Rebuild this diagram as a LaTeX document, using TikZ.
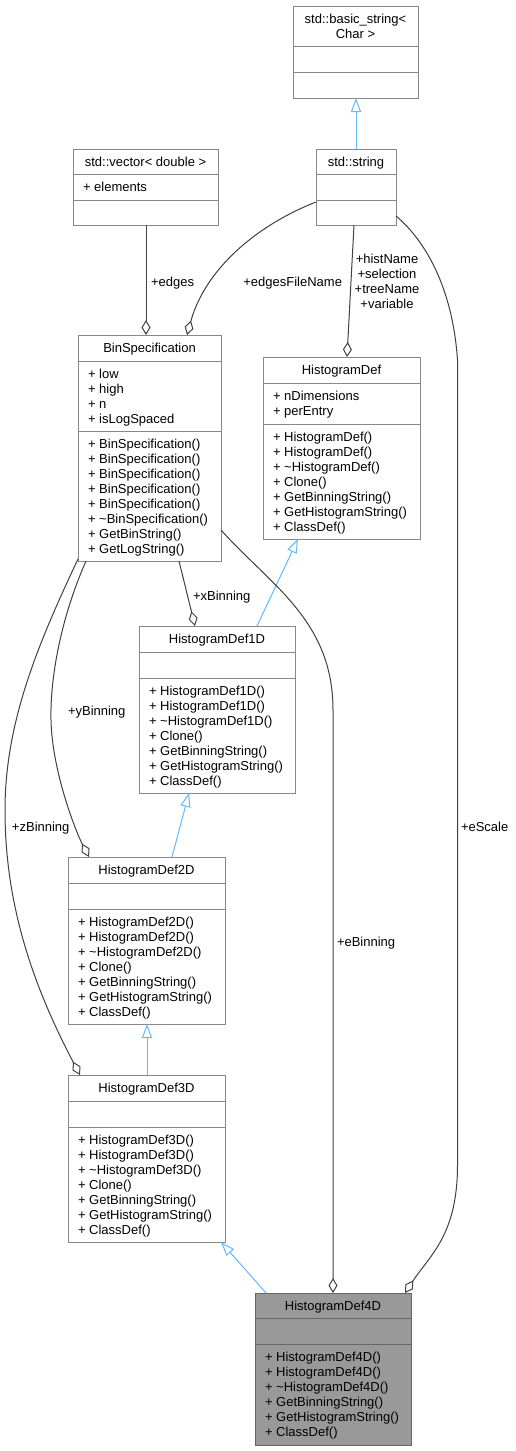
\documentclass[tikz,border=0pt]{standalone}
\usepackage{fontspec}
\setmainfont{Liberation Sans}
\usetikzlibrary{arrows.meta,calc}
\definecolor{boxgray}{HTML}{888888}
\definecolor{edgegray}{HTML}{404040}
\definecolor{inhblue}{HTML}{63B8FF}
\definecolor{fillfour}{HTML}{999999}
\definecolor{borderfour}{HTML}{666666}
\newcommand\fs{\rule{0pt}{11.5pt}}
\tikzset{
  cbox/.style={draw=boxgray, fill=white, line width=1pt, inner sep=0pt, outer sep=0pt},
  focus/.style={draw=borderfour, fill=fillfour},
  sepline/.style={draw=boxgray, line width=1pt},
  sepfour/.style={draw=borderfour, line width=1pt},
  txt/.style={inner sep=0pt, outer sep=0pt, font=\fontsize{13}{15}\selectfont, align=left, anchor=north west},
  ttl/.style={inner sep=0pt, outer sep=0pt, font=\fontsize{13}{15}\selectfont, align=center, anchor=north},
  lbl/.style={inner sep=0pt, outer sep=0pt, font=\fontsize{13}{15}\selectfont},
  inh/.style={draw=inhblue, line width=1pt, -{Triangle[open, length=14pt, width=10pt]}},
  dep/.style={draw=edgegray, line width=1pt, -{Diamond[open, length=15pt, width=9pt]}},
}
% #1 name, #2 left, #3 top, #4 right, #5 bottom, #6 sep1, #7 sep2, #8 extra style, #9 separator style
\newcommand\umlbox[9]{%
  \node[cbox,#8, minimum width={#4-#2}, minimum height={#5-#3}, anchor=north west] (#1) at (#2,#3) {};
  \draw[#9] (#2,#6) -- (#4,#6);
  \draw[#9] (#2,#7) -- (#4,#7);
}
\begin{document}
\begin{tikzpicture}[x=1pt,y=-1pt]
\useasboundingbox (0,0) rectangle (515,1451);

% boxes
\umlbox{bstr}{293}{6}{418}{98}{46}{72}{}{sepline}
\umlbox{vec}{73}{149}{218}{225}{174}{200}{}{sepline}
\umlbox{str}{316}{149}{396}{225}{174}{200}{}{sepline}
\umlbox{bs}{78}{335}{221}{561}{361}{431}{}{sepline}
\umlbox{hd}{263}{357}{420}{539}{383}{424}{}{sepline}
\umlbox{h1}{139}{626}{295}{793}{652}{678}{}{sepline}
\umlbox{h2}{68}{857}{225}{1024}{883}{909}{}{sepline}
\umlbox{h3}{68}{1075}{225}{1242}{1101}{1127}{}{sepline}
\umlbox{h4}{255}{1293}{411}{1445}{1318}{1344}{focus}{sepfour}

% texts
\node[ttl] (bstr-t) at (355.5,12) {\fs std::basic\_string<\\Char >};
\node[ttl] (vec-t) at (145.5,155) {\fs std::vector< double >};
\node[txt] (vec-a) at (83,180) {\fs + elements};
\node[ttl] (str-t) at (356,155) {\fs std::string};

\node[ttl] (bs-t) at (149.5,341) {\fs BinSpecification};
\node[txt] (bs-a) at (88,367) {\fs + low\\+ high\\+ n\\+ isLogSpaced};
\node[txt] (bs-m) at (88,437) {\fs + BinSpecification()\\+ BinSpecification()\\+ BinSpecification()\\+ BinSpecification()\\+ BinSpecification()\\+ \textasciitilde BinSpecification()\\+ GetBinString()\\+ GetLogString()};

\node[ttl] (hd-t) at (341.5,363) {\fs HistogramDef};
\node[txt] (hd-a) at (273,389) {\fs + nDimensions\\+ perEntry};
\node[txt] (hd-m) at (273,430) {\fs + HistogramDef()\\+ HistogramDef()\\+ \textasciitilde HistogramDef()\\+ Clone()\\+ GetBinningString()\\+ GetHistogramString()\\+ ClassDef()};

\node[ttl] (h1-t) at (217,632) {\fs HistogramDef1D};
\node[txt] (h1-m) at (149,684) {\fs + HistogramDef1D()\\+ HistogramDef1D()\\+ \textasciitilde HistogramDef1D()\\+ Clone()\\+ GetBinningString()\\+ GetHistogramString()\\+ ClassDef()};

\node[ttl] (h2-t) at (146.5,863) {\fs HistogramDef2D};
\node[txt] (h2-m) at (78,915) {\fs + HistogramDef2D()\\+ HistogramDef2D()\\+ \textasciitilde HistogramDef2D()\\+ Clone()\\+ GetBinningString()\\+ GetHistogramString()\\+ ClassDef()};

\node[ttl] (h3-t) at (146.5,1081) {\fs HistogramDef3D};
\node[txt] (h3-m) at (78,1133) {\fs + HistogramDef3D()\\+ HistogramDef3D()\\+ \textasciitilde HistogramDef3D()\\+ Clone()\\+ GetBinningString()\\+ GetHistogramString()\\+ ClassDef()};

\node[ttl] (h4-t) at (333,1299) {\fs HistogramDef4D};
\node[txt] (h4-m) at (265,1350) {\fs + HistogramDef4D()\\+ HistogramDef4D()\\+ \textasciitilde HistogramDef4D()\\+ GetBinningString()\\+ GetHistogramString()\\+ ClassDef()};

% inheritance
\draw[inh] ($(str.north west)+(40,0)$) -- ($(bstr.south west)+(63,0)$);
\draw[inh] ($(h1.north west)+(118,0)$) -- ($(hd.south west)+(35,0)$);
\draw[inh] ($(h2.north west)+(104,0)$) -- ($(h1.south west)+(50,0)$);
\draw[inh] ($(h3.north west)+(79,0)$) -- ($(h2.south west)+(79,0)$);
\draw[inh] ($(h4.north west)+(11,0)$) -- ($(h3.south west)+(153,0)$);

% aggregations
\draw[dep] ($(vec.south west)+(73,0)$) -- ($(bs.north west)+(68,0)$);
\draw[dep] ($(str.north west)+(0,53)$) .. controls (255,226) and (205,270) .. ($(bs.north west)+(109,0)$);
\draw[dep] ($(str.south west)+(38,0)$) -- ($(hd.north west)+(84,0)$);
\draw[dep] ($(str.north east)+(0,67)$) .. controls (420,236) and (452,280) .. (457.5,360) -- (457.5,1165) .. controls (457.5,1235) and (430,1255) .. ($(h4.north east)+(-6,0)$);
\draw[dep] ($(bs.south west)+(101,0)$) -- ($(h1.north west)+(56,0)$);
\draw[dep] ($(bs.north east)+(0,195)$) .. controls (270,585) and (333,620) .. (333,710) -- ($(h4.north west)+(78,0)$);
\draw[dep] ($(bs.south west)+(8,0)$) .. controls (60,620) and (50,680) .. (51,720) .. controls (52,770) and (75,830) .. ($(h2.north west)+(21,0)$);
\draw[dep] ($(bs.south west)+(0,-2)$) .. controls (40,640) and (5,720) .. (5,810) .. controls (5,900) and (30,980) .. ($(h3.north west)+(12,0)$);

% labels
\node[lbl, anchor=base west] (l-edges) at (151,286) {+edges};
\node[lbl, anchor=base east] (l-efn) at (342,286) {+edgesFileName};
\node[lbl, align=center, anchor=north] (l-hist) at (387,251.5) {\fs +histName\\+selection\\+treeName\\+variable};
\node[lbl, anchor=base west] (l-x) at (193,600) {+xBinning};
\node[lbl, anchor=base west] (l-y) at (68,715.5) {+yBinning};
\node[lbl, anchor=base west] (l-z) at (12,831) {+zBinning};
\node[lbl, anchor=base west] (l-e) at (337,946) {+eBinning};
\node[lbl, anchor=base west] (l-s) at (461,831) {+eScale};
\end{tikzpicture}
\end{document}
